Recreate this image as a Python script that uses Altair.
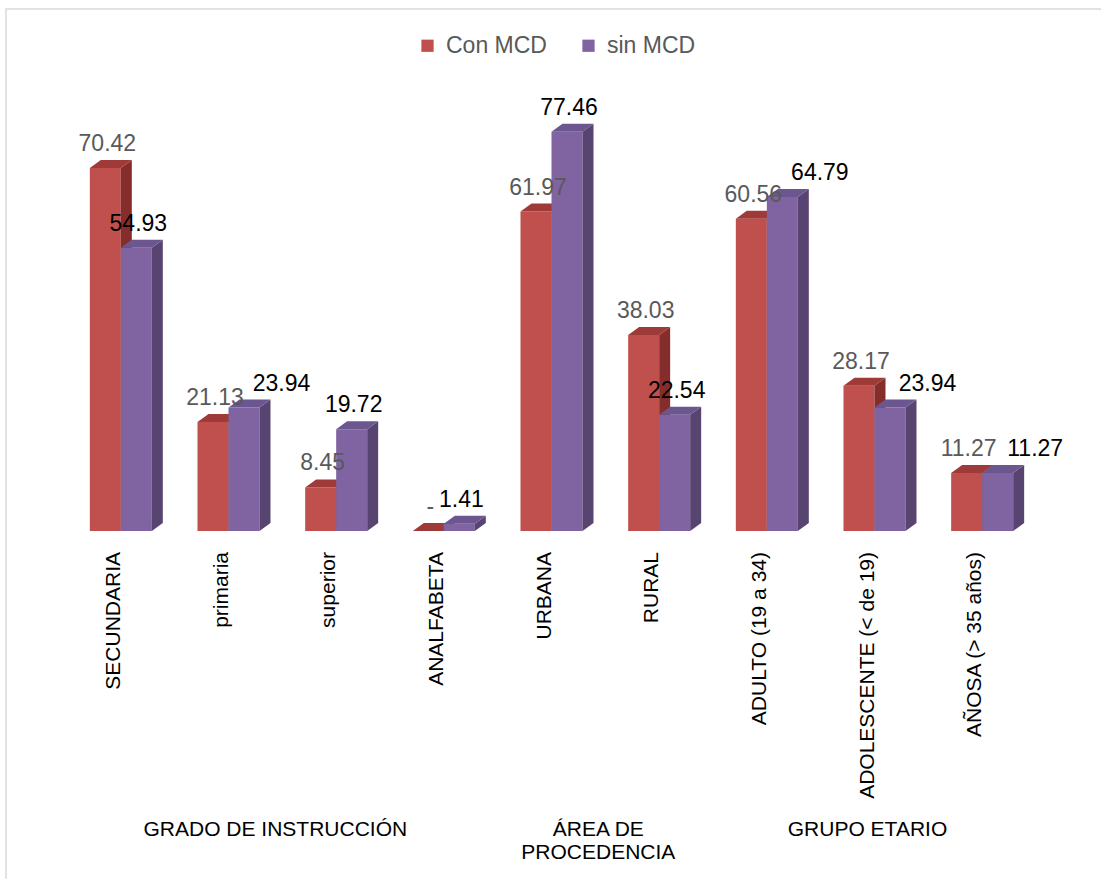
import altair as alt
import pandas as pd

# ---------------- data ----------------
categories = ["SECUNDARIA", "primaria", "superior", "ANALFABETA", "URBANA", "RURAL",
              "ADULTO (19 a 34)", "ADOLESCENTE (< de 19)", "AÑOSA (> 35 años)"]
group_names = ["GRADO DE INSTRUCCIÓN", "ÁREA DE\nPROCEDENCIA", "GRUPO ETARIO"]
category_group = [0, 0, 0, 0, 1, 1, 2, 2, 2]
series_names = ["Con MCD", "sin MCD"]
con_mcd = [70.42, 21.13, 8.45, 0.0, 61.97, 38.03, 60.56, 28.17, 11.27]
sin_mcd = [54.93, 23.94, 19.72, 1.41, 77.46, 22.54, 64.79, 23.94, 11.27]

# ---------------- styling ----------------
FONT = "Liberation Sans"
BAR_W = 0.288      # bar width in category units
DX = 0.102         # 3D depth (x, category units)
DY = 1.55          # 3D depth (y, value units)
front_col = {"Con MCD": "#C0504D", "sin MCD": "#8064A2"}
top_col = {"Con MCD": "#9E3A37", "sin MCD": "#6C5690"}
side_col = {"Con MCD": "#842D2B", "sin MCD": "#574470"}

values = {"Con MCD": con_mcd, "sin MCD": sin_mcd}

front_rows, side_rows, top_rows, label_rows = [], [], [], []
for i, cat in enumerate(categories):
    for s, name in enumerate(series_names):
        v = values[name][i]
        xl = i - BAR_W + s * BAR_W
        xr = xl + BAR_W
        bid = f"{i}-{s}"
        front_rows.append(dict(cat=cat, series=name, xl=xl, xr=xr, v=v))
        side_rows += [
            dict(bar=bid, series=name, x=xr, y0=0, y1=v, c=side_col[name]),
            dict(bar=bid, series=name, x=xr + DX, y0=DY, y1=v + DY, c=side_col[name]),
        ]
        top_rows += [
            dict(bar=bid, series=name, x=xl, y0=v, y1=v, c=top_col[name]),
            dict(bar=bid, series=name, x=xl + DX, y0=v, y1=v + DY, c=top_col[name]),
            dict(bar=bid, series=name, x=xr, y0=v, y1=v + DY, c=top_col[name]),
            dict(bar=bid, series=name, x=xr + DX, y0=v + DY, y1=v + DY, c=top_col[name]),
        ]
        # move the second label aside when both labels would collide
        close = abs(con_mcd[i] - sin_mcd[i]) < 5 and con_mcd[i] > 0
        lx = (xl + xr) / 2 + (0.33 if (s == 1 and close) else 0.0)
        label_rows.append(dict(series=name, lx=lx, v=v,
                               txt="-" if v == 0 else f"{v:.2f}",
                               col="#595959" if s == 0 else "#000000"))

front_df = pd.DataFrame(front_rows)
side_df = pd.DataFrame(side_rows)
top_df = pd.DataFrame(top_rows)
label_df = pd.DataFrame(label_rows)
cat_df = pd.DataFrame({"cat": categories, "idx": list(range(len(categories)))})
grp_df = pd.DataFrame({
    "group": group_names,
    "gx": [sum(i for i, g in enumerate(category_group) if g == k) /
           category_group.count(k) for k in range(len(group_names))],
})

xscale = alt.Scale(domain=[-0.5, len(categories) - 0.5], nice=False, zero=False)
yscale = alt.Scale(domain=[0, 90], nice=False)


def front_layer(name):
    d = front_df[front_df.series == name]
    return alt.Chart(d).mark_rect().encode(
        x=alt.X("xl:Q", scale=xscale, axis=None),
        x2="xr:Q",
        y=alt.Y("v:Q", scale=yscale, axis=None),
        y2=alt.datum(0),
        color=alt.Color("series:N",
                        scale=alt.Scale(domain=series_names,
                                        range=[front_col[n] for n in series_names]),
                        legend=alt.Legend(orient="none", legendX=349, legendY=-33,
                                          direction="horizontal", title=None,
                                          symbolType="square", symbolSize=150,
                                          symbolStrokeWidth=0,
                                          labelFontSize=23, labelColor="#595959",
                                          labelFont=FONT, labelOffset=7,
                                          columnPadding=30)),
    )


def poly_layer(df, name):
    d = df[df.series == name]
    return alt.Chart(d).mark_area(interpolate="linear", orient="vertical").encode(
        x=alt.X("x:Q", scale=xscale, axis=None),
        y=alt.Y("y0:Q", scale=yscale, axis=None),
        y2="y1:Q",
        detail="bar:N",
        color=alt.Color("c:N", scale=None),
    )


layers = []
for name in series_names:
    layers.append(front_layer(name))
    layers.append(poly_layer(side_df, name))
    layers.append(poly_layer(top_df, name))

labels = alt.Chart(label_df).mark_text(
    font=FONT, fontSize=23, baseline="middle", align="center", dx=2, dy=-24
).encode(
    x=alt.X("lx:Q", scale=xscale, axis=None),
    y=alt.Y("v:Q", scale=yscale, axis=None),
    text="txt:N",
    color=alt.Color("col:N", scale=None),
)

cat_labels = alt.Chart(cat_df).mark_text(
    font=FONT, fontSize=21, angle=270, align="right", baseline="middle",
    dy=-7, color="#000000"
).encode(
    x=alt.X("idx:Q", scale=xscale, axis=None),
    y=alt.value(485),
    text="cat:N",
)

group_labels = alt.Chart(grp_df).mark_text(
    font=FONT, fontSize=21, baseline="top", align="center", dx=-7,
    lineBreak="\n", lineHeight=23, color="#000000"
).encode(
    x=alt.X("gx:Q", scale=xscale, axis=None),
    y=alt.value(752),
    text="group:N",
)

border = alt.Chart(pd.DataFrame({"k": [0]})).mark_rect(
    filled=False, stroke="#D9D9D9", strokeWidth=1.5
).encode(
    x=alt.value(-61), x2=alt.value(1101), y=alt.value(-58), y2=alt.value(879)
)

chart = alt.layer(border, *layers, labels, cat_labels, group_labels).properties(
    width=969, height=464,
    autosize=alt.AutoSizeParams(type="none"),
    padding={"left": 67, "top": 67, "right": 65, "bottom": 348},
    background="#FFFFFF",
).configure_view(stroke=None)

chart.save("out.html", embed_options={"renderer": "svg", "actions": False})
